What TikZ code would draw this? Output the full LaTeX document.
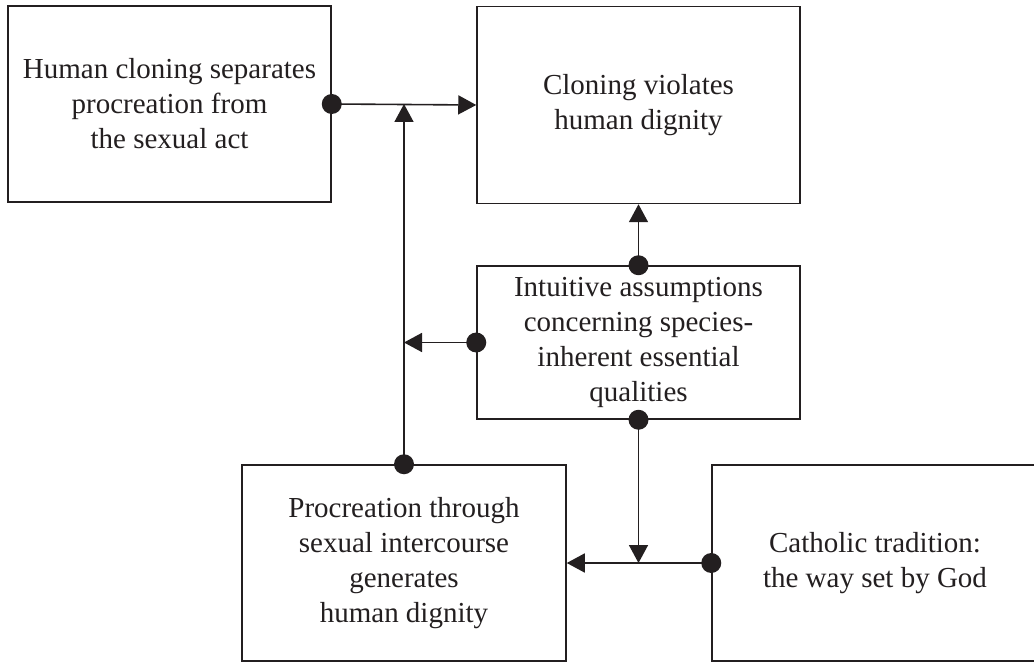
\documentclass[tikz,border=0pt]{standalone}
\usepackage{fontspec}
\setmainfont{Liberation Serif}
\usetikzlibrary{arrows.meta}
\definecolor{ink}{HTML}{231F20}
\begin{document}
\begin{tikzpicture}[x=1pt,y=-1pt,
  box/.style={draw=ink, line width=1.5pt, rectangle, inner sep=0pt,
    align=center, text=ink, font=\fontsize{29}{35}\selectfont},
  link/.style={draw=ink, line width=1.6pt, -{Triangle[width=19pt,length=18pt]}},
  dotmark/.style={circle, fill=ink, inner sep=0pt, minimum size=20pt}]
\clip (0,0) rectangle (1034,663);
\fill[white] (0,0) rectangle (1034,663);

% statements
\node[box, minimum width=323pt, minimum height=196pt] (b1) at (169.5,104)
  {Human cloning separates\\procreation from\\the sexual act};
\node[box, minimum width=323pt, minimum height=197pt] (b2) at (638.5,105)
  {Cloning violates\\human dignity};
\node[box, minimum width=323pt, minimum height=153pt] (b3) at (638.5,342.5)
  {Intuitive assumptions\\concerning species-\\inherent essential\\qualities};
\node[box, minimum width=324pt, minimum height=196pt] (b4) at (404,563)
  {Procreation through\\sexual intercourse\\generates\\human dignity};
\node[box, minimum width=326pt, minimum height=196pt] (b5) at (875,563)
  {Catholic tradition:\\the way set by God};

% junction points on the connectors
\coordinate (j1) at (b4.north |- b1.east);
\coordinate (j2) at (b3.south |- b5.west);

% connectors
\draw[link] (b1.east) -- (b2.west);
\draw[link] (b4.north) -- (j1);
\draw[link] (b3.west) -- (b3.west -| j1);
\draw[link] (b3.north) -- (b2.south);
\draw[link] (b3.south) -- (j2);
\draw[link] (b5.west) -- (b5.west -| b4.east);

% origin dots
\node[dotmark] at (b1.east) {};
\node[dotmark] at (b4.north) {};
\node[dotmark] at (b3.west) {};
\node[dotmark] at (b3.north) {};
\node[dotmark] at (b3.south) {};
\node[dotmark] at (b5.west) {};
\end{tikzpicture}
\end{document}
